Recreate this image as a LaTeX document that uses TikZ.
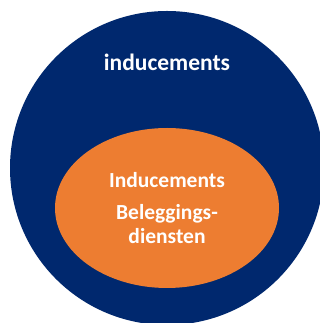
\documentclass[tikz,border=0pt]{standalone}
\usepackage{fontspec}
\setmainfont{Carlito}
\definecolor{navy}{HTML}{00286E}
\definecolor{orng}{HTML}{ED7D31}
\begin{document}
\begin{tikzpicture}[x=1pt,y=1pt,
  lbl/.style={text=white,font=\bfseries\fontsize{21.5}{24}\selectfont,align=center,inner sep=0pt}]
\useasboundingbox (0,0) rectangle (320,323);
\clip (0,0) rectangle (320,323);
\fill[white] (0,0) rectangle (320,323);
\fill[navy] (167,155) circle[radius=157];
\fill[orng] (167,115) ellipse[x radius=112,y radius=80];
\node[lbl,font=\bfseries\fontsize{23.5}{26}\selectfont] (outer) at (167,261) {inducements};
\node[lbl] (inner) at (167,143) {Inducements};
\node[lbl] (sub) at (167,99) {Beleggings-\\diensten};
\end{tikzpicture}
\end{document}
